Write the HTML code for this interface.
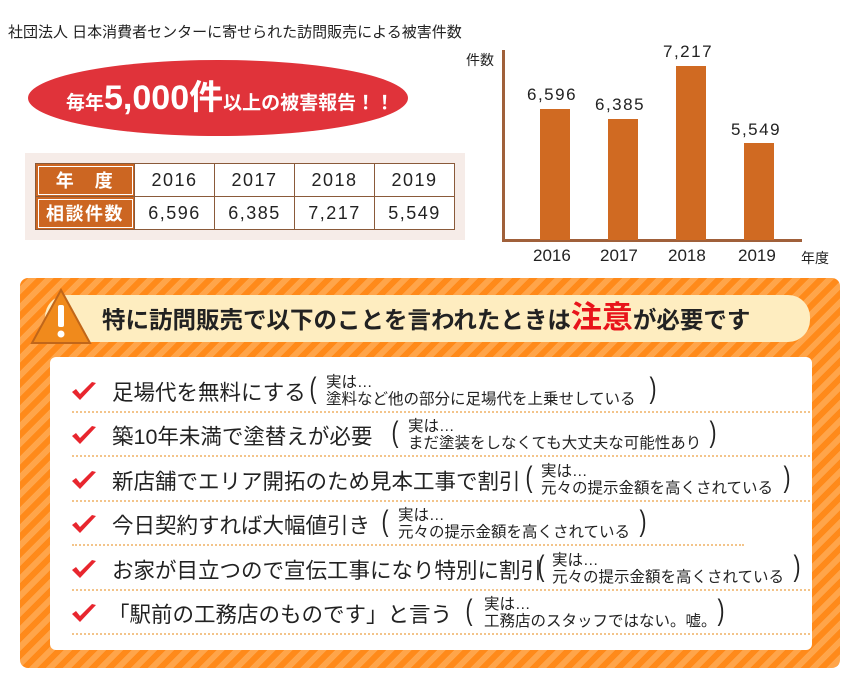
<!DOCTYPE html>
<html><head><meta charset="utf-8"><style>
*{margin:0;padding:0;box-sizing:border-box}
body{width:860px;height:700px;background:#fff;position:relative;overflow:hidden;font-family:"Liberation Sans","Noto Sans CJK JP",sans-serif;color:#222}
.a{position:absolute;white-space:nowrap}
td{border:1px solid #8a5a3a;text-align:center;font-size:18px;height:33px;letter-spacing:1.5px}
.h{background:#cc6622;color:#fff;font-weight:bold;width:99px;outline:1px solid #fff;outline-offset:-3px}
.row .m{position:absolute;font-size:21.5px;top:-2px}
.row{position:absolute;left:0;width:760px;height:44px}
.sm{position:absolute;font-size:15.5px;line-height:17px}
.p{position:absolute;font-size:30px;font-weight:300;top:-6px;transform:scaleX(.7)}
.dl{position:absolute;left:22px;height:0;border-top:2px dotted #f3c48a}
.ck{position:absolute;left:20px;top:2px}
</style></head><body>
<div class="a" style="left:8px;top:21px;font-size:15px">社団法人 日本消費者センターに寄せられた訪問販売による被害件数</div>
<div class="a" style="left:28px;top:60px;width:380px;height:76px;border-radius:50%;background:#e0333a"></div>
<div class="a" style="left:66px;top:76px;color:#fff;font-weight:bold;font-size:19px;line-height:44px">毎年<span style="font-size:34px">5,000件</span>以上の被害報告！！</div>
<div class="a" style="left:25px;top:153px;width:440px;height:87px;background:#f6ece8"></div>
<table class="a" style="left:35px;top:163px;border-collapse:collapse;background:#fff;width:420px">
<tr><td class="h">年　度</td><td>2016</td><td>2017</td><td>2018</td><td>2019</td></tr>
<tr><td class="h">相談件数</td><td>6,596</td><td>6,385</td><td>7,217</td><td>5,549</td></tr></table>
<div class="a" style="left:466px;top:50px;font-size:14px">件数</div>
<div class="a" style="left:502px;top:50px;width:3px;height:192px;background:#a0603a"></div>
<div class="a" style="left:502px;top:239px;width:300px;height:3px;background:#a0603a"></div>
<div class="a" style="left:540px;top:109px;width:30px;height:131px;background:#d06a22"></div>
<div class="a" style="left:608px;top:119px;width:30px;height:121px;background:#d06a22"></div>
<div class="a" style="left:676px;top:66px;width:30px;height:174px;background:#d06a22"></div>
<div class="a" style="left:744px;top:143px;width:30px;height:97px;background:#d06a22"></div>
<div class="a" style="left:527px;top:85px;font-size:17px;letter-spacing:1.5px">6,596</div>
<div class="a" style="left:595px;top:95px;font-size:17px;letter-spacing:1.5px">6,385</div>
<div class="a" style="left:663px;top:42px;font-size:17px;letter-spacing:1.5px">7,217</div>
<div class="a" style="left:731px;top:120px;font-size:17px;letter-spacing:1.5px">5,549</div>
<div class="a" style="left:533px;top:246px;font-size:17px">2016</div>
<div class="a" style="left:600px;top:246px;font-size:17px">2017</div>
<div class="a" style="left:668px;top:246px;font-size:17px">2018</div>
<div class="a" style="left:738px;top:246px;font-size:17px">2019</div>
<div class="a" style="left:801px;top:248px;font-size:14px">年度</div>

<div class="a" style="left:20px;top:278px;width:820px;height:390px;border-radius:8px;background:repeating-linear-gradient(135deg,#ff8a1a 0 6px,#ffa54a 6px 12px)"></div>
<div class="a" style="left:45px;top:295px;width:765px;height:47px;border-radius:22px;background:#feedc0"></div>
<svg class="a" style="left:30px;top:288px" width="62" height="58"><polygon points="31,2 60,55 2,55" fill="#f08a1c" stroke="#c0661a" stroke-width="2"/><rect x="28" y="17" width="6" height="22" rx="2" fill="#fff"/><circle cx="31" cy="46" r="3.5" fill="#fff"/></svg>
<div class="a" style="left:102px;top:302px;font-size:23.5px;font-weight:bold;line-height:32px">特に訪問販売で以下のことを言われたときは<span style="color:#e8141a;font-size:31px">注意</span>が必要です</div>
<div class="a" style="left:50px;top:357px;width:762px;height:293px;border-radius:6px;background:#fff"></div>

<div class="a" style="left:50px;top:378px;width:762px;height:270px">
<div class="row" style="top:0"><svg class="ck" width="28" height="24"><path d="M2,12 L10,20 L26,3 L22,2 L10,14 L6,9Z" fill="#e8262e"/></svg><span class="m" style="left:62px">足場代を無料にする</span><span class="p" style="left:258px">(</span><span class="sm" style="left:276px;top:-4px">実は…<br>塗料など他の部分に足場代を上乗せしている</span><span class="p" style="left:598px">)</span><div class="dl" style="top:33px;width:738px"></div></div>
<div class="row" style="top:44px"><svg class="ck" width="28" height="24"><path d="M2,12 L10,20 L26,3 L22,2 L10,14 L6,9Z" fill="#e8262e"/></svg><span class="m" style="left:62px">築10年未満で塗替えが必要</span><span class="p" style="left:340px">(</span><span class="sm" style="left:358px;top:-4px">実は…<br>まだ塗装をしなくても大丈夫な可能性あり</span><span class="p" style="left:658px">)</span><div class="dl" style="top:33px;width:738px"></div></div>
<div class="row" style="top:89px"><svg class="ck" width="28" height="24"><path d="M2,12 L10,20 L26,3 L22,2 L10,14 L6,9Z" fill="#e8262e"/></svg><span class="m" style="left:62px">新店舗でエリア開拓のため見本工事で割引</span><span class="p" style="left:474px">(</span><span class="sm" style="left:491px;top:-4px">実は…<br>元々の提示金額を高くされている</span><span class="p" style="left:732px">)</span><div class="dl" style="top:33px;width:738px"></div></div>
<div class="row" style="top:133px"><svg class="ck" width="28" height="24"><path d="M2,12 L10,20 L26,3 L22,2 L10,14 L6,9Z" fill="#e8262e"/></svg><span class="m" style="left:62px">今日契約すれば大幅値引き</span><span class="p" style="left:330px">(</span><span class="sm" style="left:348px;top:-4px">実は…<br>元々の提示金額を高くされている</span><span class="p" style="left:588px">)</span><div class="dl" style="top:33px;width:672px"></div></div>
<div class="row" style="top:178px"><svg class="ck" width="28" height="24"><path d="M2,12 L10,20 L26,3 L22,2 L10,14 L6,9Z" fill="#e8262e"/></svg><span class="m" style="left:62px">お家が目立つので宣伝工事になり特別に割引</span><span class="p" style="left:486px">(</span><span class="sm" style="left:502px;top:-4px">実は…<br>元々の提示金額を高くされている</span><span class="p" style="left:742px">)</span><div class="dl" style="top:33px;width:738px"></div></div>
<div class="row" style="top:222px"><svg class="ck" width="28" height="24"><path d="M2,12 L10,20 L26,3 L22,2 L10,14 L6,9Z" fill="#e8262e"/></svg><span class="m" style="left:58px">「駅前の工務店のものです」と言う</span><span class="p" style="left:414px">(</span><span class="sm" style="left:434px;top:-4px">実は…<br>工務店のスタッフではない。嘘。</span><span class="p" style="left:666px">)</span><div class="dl" style="top:33px;width:738px"></div></div>
</div>
</body></html>
